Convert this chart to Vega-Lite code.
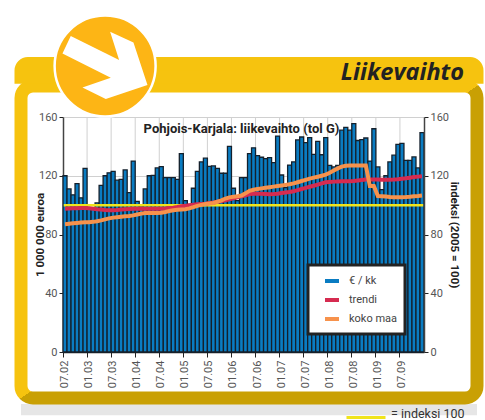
{
"$schema":"https://vega.github.io/schema/vega-lite/v6.json",
"autosize":"none","width":456,"height":312,
"padding":{"left":21,"top":86,"right":8,"bottom":22},
"background":"white",
"view":{"fill":"white","stroke":null,"cornerRadius":10},
"config":{
 "font":"Roboto",
 "legend":{"strokeWidth":3},
 "axis":{"labelFont":"Roboto","labelFontSize":11,"labelColor":"#555555","tickColor":"#222222","tickSize":4,"domainColor":"#444444","domainWidth":1.5,"gridColor":"#d0d0d0","gridWidth":1,"labelPadding":2,"titleFont":"Roboto","titleFontSize":11.5,"titleFontWeight":"bold","titleColor":"#222222"}
},
"data":{"values":[
{"kk":"07.02","eur":120,"trendi":97.6,"koko":87,"ind":100},
{"kk":"08.02","eur":111,"trendi":97.7,"koko":87.3,"ind":100},
{"kk":"09.02","eur":107,"trendi":97.8,"koko":87.6,"ind":100},
{"kk":"10.02","eur":114.6,"trendi":97.9,"koko":87.9,"ind":100},
{"kk":"11.02","eur":105,"trendi":98,"koko":88.1,"ind":100},
{"kk":"12.02","eur":125,"trendi":98,"koko":88.3,"ind":100},
{"kk":"01.03","eur":98,"trendi":97.8,"koko":88.4,"ind":100},
{"kk":"02.03","eur":98,"trendi":97.5,"koko":88.6,"ind":100},
{"kk":"03.03","eur":101.5,"trendi":97.2,"koko":89,"ind":100},
{"kk":"04.03","eur":113.5,"trendi":97,"koko":89.6,"ind":100},
{"kk":"05.03","eur":120,"trendi":96.7,"koko":90.3,"ind":100},
{"kk":"06.03","eur":122,"trendi":96.5,"koko":91,"ind":100},
{"kk":"07.03","eur":123,"trendi":96.5,"koko":91.5,"ind":100},
{"kk":"08.03","eur":117,"trendi":96.7,"koko":91.8,"ind":100},
{"kk":"09.03","eur":117.6,"trendi":97,"koko":92.1,"ind":100},
{"kk":"10.03","eur":124,"trendi":97.2,"koko":92.4,"ind":100},
{"kk":"11.03","eur":108.5,"trendi":97.4,"koko":92.6,"ind":100},
{"kk":"12.03","eur":130,"trendi":97.6,"koko":93,"ind":100},
{"kk":"01.04","eur":102.6,"trendi":97.6,"koko":93.6,"ind":100},
{"kk":"02.04","eur":99.5,"trendi":97.6,"koko":94.2,"ind":100},
{"kk":"03.04","eur":111,"trendi":97.6,"koko":94.7,"ind":100},
{"kk":"04.04","eur":120,"trendi":97.6,"koko":94.7,"ind":100},
{"kk":"05.04","eur":120.3,"trendi":97.6,"koko":94.7,"ind":100},
{"kk":"06.04","eur":125.3,"trendi":97.6,"koko":94.7,"ind":100},
{"kk":"07.04","eur":126.2,"trendi":97.6,"koko":94.8,"ind":100},
{"kk":"08.04","eur":118.7,"trendi":97.7,"koko":95.3,"ind":100},
{"kk":"09.04","eur":118.7,"trendi":98,"koko":96,"ind":100},
{"kk":"10.04","eur":118.7,"trendi":98.3,"koko":96.5,"ind":100},
{"kk":"11.04","eur":117.6,"trendi":98.7,"koko":96.8,"ind":100},
{"kk":"12.04","eur":135,"trendi":99.2,"koko":97,"ind":100},
{"kk":"01.05","eur":103,"trendi":99.5,"koko":97.2,"ind":100},
{"kk":"02.05","eur":100.5,"trendi":100,"koko":97.8,"ind":100},
{"kk":"03.05","eur":111.5,"trendi":100.3,"koko":98.6,"ind":100},
{"kk":"04.05","eur":123,"trendi":100.6,"koko":99.5,"ind":100},
{"kk":"05.05","eur":129.4,"trendi":100.8,"koko":100.2,"ind":100},
{"kk":"06.05","eur":132,"trendi":101,"koko":100.7,"ind":100},
{"kk":"07.05","eur":126.4,"trendi":101.4,"koko":101.1,"ind":100},
{"kk":"08.05","eur":126.7,"trendi":101.8,"koko":101.5,"ind":100},
{"kk":"09.05","eur":125,"trendi":102.3,"koko":102.3,"ind":100},
{"kk":"10.05","eur":121.7,"trendi":102.8,"koko":103.3,"ind":100},
{"kk":"11.05","eur":121.7,"trendi":103.3,"koko":104.5,"ind":100},
{"kk":"12.05","eur":140,"trendi":104,"koko":105.3,"ind":100},
{"kk":"01.06","eur":111.5,"trendi":104.7,"koko":105.7,"ind":100},
{"kk":"02.06","eur":103,"trendi":105.4,"koko":106,"ind":100},
{"kk":"03.06","eur":118.7,"trendi":106,"koko":106.5,"ind":100},
{"kk":"04.06","eur":118.7,"trendi":106.7,"koko":108,"ind":100},
{"kk":"05.06","eur":135,"trendi":107.5,"koko":109.8,"ind":100},
{"kk":"06.06","eur":139,"trendi":107.8,"koko":110.5,"ind":100},
{"kk":"07.06","eur":133.7,"trendi":107.8,"koko":111,"ind":100},
{"kk":"08.06","eur":132.6,"trendi":107.7,"koko":111.4,"ind":100},
{"kk":"09.06","eur":131.7,"trendi":107.6,"koko":111.8,"ind":100},
{"kk":"10.06","eur":132.4,"trendi":107.4,"koko":112.2,"ind":100},
{"kk":"11.06","eur":129,"trendi":107.5,"koko":112.6,"ind":100},
{"kk":"12.06","eur":147,"trendi":107.8,"koko":113,"ind":100},
{"kk":"01.07","eur":120.5,"trendi":108.2,"koko":113.4,"ind":100},
{"kk":"02.07","eur":112,"trendi":108.6,"koko":113.8,"ind":100},
{"kk":"03.07","eur":127.3,"trendi":109,"koko":114.2,"ind":100},
{"kk":"04.07","eur":129.4,"trendi":109.5,"koko":114.8,"ind":100},
{"kk":"05.07","eur":144.4,"trendi":110.2,"koko":115.6,"ind":100},
{"kk":"06.07","eur":146.4,"trendi":111,"koko":116.4,"ind":100},
{"kk":"07.07","eur":142.5,"trendi":111.7,"koko":117.2,"ind":100},
{"kk":"08.07","eur":146,"trendi":112.5,"koko":118,"ind":100},
{"kk":"09.07","eur":134.6,"trendi":113.2,"koko":118.7,"ind":100},
{"kk":"10.07","eur":143.4,"trendi":114,"koko":119.3,"ind":100},
{"kk":"11.07","eur":134.3,"trendi":114.8,"koko":120,"ind":100},
{"kk":"12.07","eur":146,"trendi":115.6,"koko":120.8,"ind":100},
{"kk":"01.08","eur":127,"trendi":115.8,"koko":122,"ind":100},
{"kk":"02.08","eur":126,"trendi":116,"koko":123.5,"ind":100},
{"kk":"03.08","eur":127,"trendi":116.1,"koko":125,"ind":100},
{"kk":"04.08","eur":151,"trendi":116.2,"koko":126.2,"ind":100},
{"kk":"05.08","eur":153,"trendi":116.2,"koko":126.8,"ind":100},
{"kk":"06.08","eur":151,"trendi":116.2,"koko":127,"ind":100},
{"kk":"07.08","eur":155.5,"trendi":116.4,"koko":127,"ind":100},
{"kk":"08.08","eur":144,"trendi":116.8,"koko":127,"ind":100},
{"kk":"09.08","eur":144.6,"trendi":117.1,"koko":127,"ind":100},
{"kk":"10.08","eur":145.7,"trendi":117.4,"koko":127,"ind":100},
{"kk":"11.08","eur":130,"trendi":117.5,"koko":113,"ind":100},
{"kk":"12.08","eur":152,"trendi":117.5,"koko":113,"ind":100},
{"kk":"01.09","eur":126,"trendi":117.4,"koko":106.2,"ind":100},
{"kk":"02.09","eur":110.5,"trendi":117.3,"koko":106,"ind":100},
{"kk":"03.09","eur":120,"trendi":117.3,"koko":105.8,"ind":100},
{"kk":"04.09","eur":129.4,"trendi":117.3,"koko":105.5,"ind":100},
{"kk":"05.09","eur":134,"trendi":117.4,"koko":105.4,"ind":100},
{"kk":"06.09","eur":141.4,"trendi":117.6,"koko":105.4,"ind":100},
{"kk":"07.09","eur":142,"trendi":118,"koko":105.4,"ind":100},
{"kk":"08.09","eur":130.5,"trendi":118.3,"koko":105.5,"ind":100},
{"kk":"09.09","eur":130.5,"trendi":118.7,"koko":105.7,"ind":100},
{"kk":"10.09","eur":132.8,"trendi":119.1,"koko":106,"ind":100},
{"kk":"11.09","eur":125.3,"trendi":119.4,"koko":106.2,"ind":100},
{"kk":"12.09","eur":149.3,"trendi":119.7,"koko":106.5,"ind":100}
]},
"resolve":{"scale":{"y":"independent"}},
"layer":[
{"data":{"values":[{"osa":"varjo"}]},"mark":{"type":"rect","fill":"#e6e6e6"},
 "encoding":{"y":{"datum":-35.4,"type":"quantitative","scale":{"domain":[0,160],"range":[266,31],"nice":false},"axis":null},"y2":{"datum":-43}}},
{"data":{"values":[{"osa":"kehys"}]},"mark":{"type":"rect","fill":"transparent","strokeWidth":13,"cornerRadius":12,"stroke":{"x1":0,"y1":0,"x2":1,"y2":1,"gradient":"linear","stops":[{"offset":0,"color":"#f6c30f"},{"offset":0.5,"color":"#f6c30f"},{"offset":0.5,"color":"#c9a004"},{"offset":1,"color":"#c9a004"}]}},
 "encoding":{}},
{"data":{"values":[{"osa":"otsikkopalkki"}]},"mark":{"type":"rect","fill":"#f6c30f","stroke":"#f6c30f","strokeWidth":13,"cornerRadiusTopLeft":8,"cornerRadiusTopRight":8},
 "encoding":{"y":{"datum":196.4,"type":"quantitative","scale":{"domain":[0,160],"range":[266,31],"nice":false},"axis":null},"y2":{"datum":187}}},
{"transform":[{"filter":{"field":"kk","oneOf":["01.03","07.03","01.04","07.04","01.05","07.05","01.06","07.06","01.07","07.07","01.08","07.08","01.09","07.09"]}}],
 "mark":{"type":"rule","color":"#d0d0d0","strokeWidth":1},
 "encoding":{"x":{"field":"kk","type":"nominal","bandPosition":0,"scale":{"type":"band","paddingInner":0,"paddingOuter":0,"range":[42,403],"domain":["07.02","08.02","09.02","10.02","11.02","12.02","01.03","02.03","03.03","04.03","05.03","06.03","07.03","08.03","09.03","10.03","11.03","12.03","01.04","02.04","03.04","04.04","05.04","06.04","07.04","08.04","09.04","10.04","11.04","12.04","01.05","02.05","03.05","04.05","05.05","06.05","07.05","08.05","09.05","10.05","11.05","12.05","01.06","02.06","03.06","04.06","05.06","06.06","07.06","08.06","09.06","10.06","11.06","12.06","01.07","02.07","03.07","04.07","05.07","06.07","07.07","08.07","09.07","10.07","11.07","12.07","01.08","02.08","03.08","04.08","05.08","06.08","07.08","08.08","09.08","10.08","11.08","12.08","01.09","02.09","03.09","04.09","05.09","06.09","07.09","08.09","09.09","10.09","11.09","12.09"]},
   "axis":{"title":null,"offset":-46,"bandPosition":0,"grid":false,"labelAngle":-90,"labelFontSize":11,"tickSize":5,"labelPadding":3,"domainColor":"#222222","values":["07.02","01.03","07.03","01.04","07.04","01.05","07.05","01.06","07.06","01.07","07.07","01.08","07.08","01.09","07.09"]}},
  "y":{"datum":0,"type":"quantitative","scale":{"domain":[0,160],"range":[266,31],"nice":false},"axis":null},"y2":{"datum":160}}},
{"mark":{"type":"bar","stroke":"#14202c","strokeWidth":1.3},
 "encoding":{
  "x":{"field":"kk","type":"nominal"},
  "y":{"field":"eur","type":"quantitative","scale":{"domain":[0,160],"range":[266,31],"nice":false},
   "axis":{"title":"1 000 000 euroa","orient":"left","offset":-42,"values":[0,40,80,120,160],"grid":true,"titlePadding":-7}},
  "color":{"datum":"€ / kk","scale":{"domain":["€ / kk","trendi","koko maa"],"range":["#0a7cc2","#d62b50","#f7924c"]},
   "legend":{"title":null,"orient":"none","legendX":287,"legendY":179,"fillColor":"white","strokeColor":"#222222","padding":7,"symbolType":"stroke","symbolSize":196,"symbolOffset":8,"symbolStrokeWidth":4,"labelFont":"Roboto","labelFontSize":11,"labelColor":"#444444","rowPadding":2,"labelOffset":8,
    "encode":{"symbols":{"update":{"size":{"value":324},"stroke":{"scale":"color","field":"value"},"strokeWidth":{"signal":"datum.value==='€ / kk'?6:3.5"}}}}}}
 }},
{"mark":{"type":"line","strokeWidth":2.5,"strokeCap":"square"},
 "encoding":{"x":{"field":"kk","type":"nominal"},
  "y":{"field":"ind","type":"quantitative","scale":{"domain":[0,160],"range":[266,31],"nice":false},"axis":null},
  "stroke":{"datum":"= indeksi 100","scale":{"domain":["= indeksi 100"],"range":["#f0e41c"]},
   "legend":{"title":null,"orient":"none","legendX":324,"legendY":307,"padding":0,"symbolType":"stroke","symbolSize":1521,"symbolStrokeWidth":3,"labelFontSize":12.5,"labelColor":"#333333","labelOffset":4,"labelFont":"Roboto",
    "encode":{"symbols":{"update":{"y":{"value":24.5}}}}}}}},
{"mark":{"type":"line","strokeWidth":4},
 "encoding":{"x":{"field":"kk","type":"nominal"},
  "y":{"field":"trendi","type":"quantitative","scale":{"domain":[0,160],"range":[266,31],"nice":false},"axis":null},
  "color":{"datum":"trendi"}}},
{"mark":{"type":"line","strokeWidth":4},
 "encoding":{"x":{"field":"kk","type":"nominal"},
  "y":{"field":"koko","type":"quantitative","scale":{"domain":[0,160],"range":[266,31],"nice":false},
   "axis":{"title":"indeksi (2005 = 100)","orient":"right","offset":-53,"values":[0,40,80,120,160],"grid":false,"titlePadding":0,"zindex":1}},
  "color":{"datum":"koko maa"}}},
{"data":{"values":[{"osa":"merkki"}]},"mark":{"type":"point","shape":"circle","filled":true,"fill":"#fdb515","stroke":"white","strokeWidth":2.5,"opacity":1,"size":10200},
 "encoding":{"x":{"datum":"05.03","type":"nominal"},
  "y":{"datum":194.7,"type":"quantitative","scale":{"domain":[0,160],"range":[266,31],"nice":false},"axis":null}}},
{"data":{"values":[{"osa":"nuoli"}]},"mark":{"type":"point","filled":true,"fill":"white","opacity":1,"size":10000,"shape":"M-0.687,-0.6L0.28,-0.12L0.1,-0.687L0.567,-0.473L0.847,0.38L0.013,0.66L-0.453,0.427L0.113,0.233L-0.853,-0.253Z"},
 "encoding":{"x":{"datum":"05.03","type":"nominal"},
  "y":{"datum":194.7,"type":"quantitative","scale":{"domain":[0,160],"range":[266,31],"nice":false},"axis":null}}},
{"data":{"values":[{"otsikko":"Pohjois-Karjala: liikevaihto (tol G)"}]},"mark":{"type":"text","fontWeight":"bold","fontSize":13,"color":"#222222","align":"center","baseline":"alphabetic","font":"Roboto"},
 "encoding":{"text":{"field":"otsikko"},"x":{"datum":"03.06","type":"nominal"},
  "y":{"datum":149.3,"type":"quantitative","scale":{"domain":[0,160],"range":[266,31],"nice":false},"axis":null}}},
{"data":{"values":[{"otsikko":"Liikevaihto"}]},"mark":{"type":"text","fontWeight":"bold","fontStyle":"italic","fontSize":23.5,"color":"#222222","align":"right","baseline":"alphabetic","font":"Open Sans","dx":42},
 "encoding":{"text":{"field":"otsikko"},"x":{"datum":"12.09","type":"nominal"},
  "y":{"datum":185,"type":"quantitative","scale":{"domain":[0,160],"range":[266,31],"nice":false},"axis":null}}}
]
}
